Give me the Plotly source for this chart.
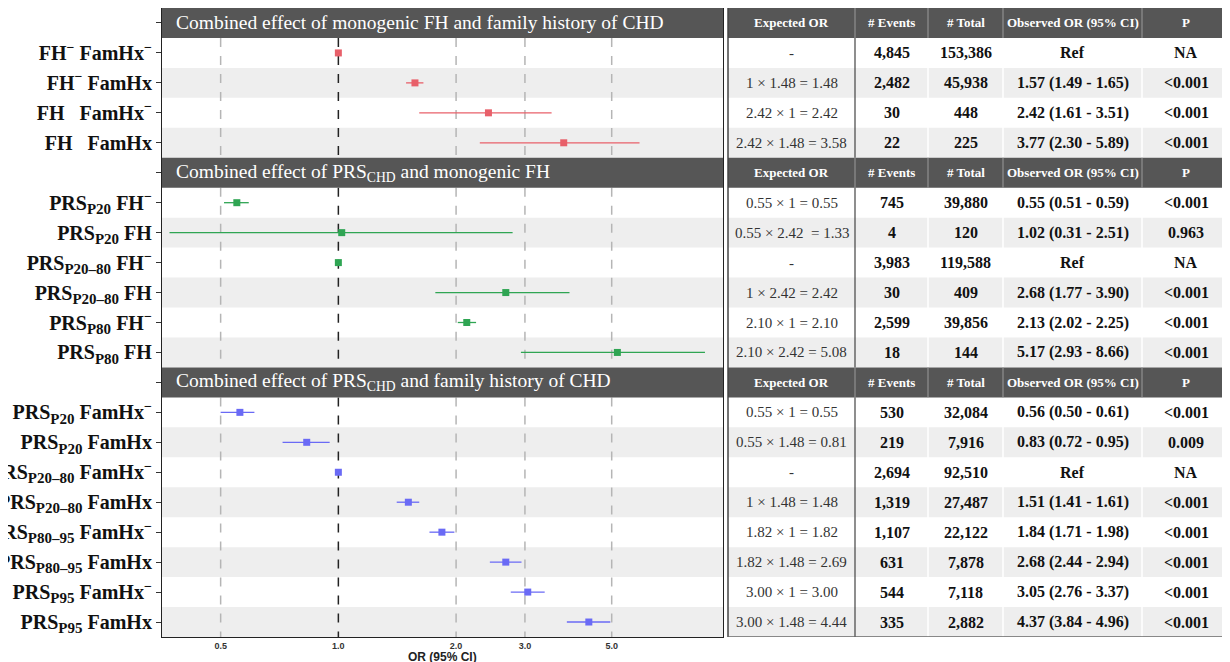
import math
import plotly.graph_objects as go

# ---------------- data ----------------
sections = [
    "Combined effect of monogenic FH and family history of CHD",
    "Combined effect of PRS<sub>CHD</sub> and monogenic FH",
    "Combined effect of PRS<sub>CHD</sub> and family history of CHD",
]

def sub(t):
    return "<sub><span style='font-size:15px'>" + t + "</span></sub>"

MINUS = "<sup>−</sup>"

labels1 = ["FH" + MINUS + " FamHx" + MINUS, "FH" + MINUS + " FamHx",
           "FH\u00a0\u00a0 FamHx" + MINUS, "FH\u00a0\u00a0 FamHx"]
est1 = [1.00, 1.57, 2.42, 3.77]
lo1 = [1.00, 1.49, 1.61, 2.30]
hi1 = [1.00, 1.65, 3.51, 5.89]
expected1 = ["-", "1 × 1.48 = 1.48", "2.42 × 1 = 2.42", "2.42 × 1.48 = 3.58"]
events1 = ["4,845", "2,482", "30", "22"]
total1 = ["153,386", "45,938", "448", "225"]
obs1 = ["Ref", "1.57 (1.49 - 1.65)", "2.42 (1.61 - 3.51)", "3.77 (2.30 - 5.89)"]
p1 = ["NA", "&lt;0.001", "&lt;0.001", "&lt;0.001"]

labels2 = ["PRS" + sub("P20") + " FH" + MINUS, "PRS" + sub("P20") + " FH",
           "PRS" + sub("P20–80") + " FH" + MINUS, "PRS" + sub("P20–80") + " FH",
           "PRS" + sub("P80") + " FH" + MINUS, "PRS" + sub("P80") + " FH"]
est2 = [0.55, 1.02, 1.00, 2.68, 2.13, 5.17]
lo2 = [0.51, 0.37, 1.00, 1.77, 2.02, 2.93]
hi2 = [0.59, 2.79, 1.00, 3.90, 2.25, 8.66]
expected2 = ["0.55 × 1 = 0.55", "0.55 × 2.42  = 1.33", "-", "1 × 2.42 = 2.42",
             "2.10 × 1 = 2.10", "2.10 × 2.42 = 5.08"]
events2 = ["745", "4", "3,983", "30", "2,599", "18"]
total2 = ["39,880", "120", "119,588", "409", "39,856", "144"]
obs2 = ["0.55 (0.51 - 0.59)", "1.02 (0.31 - 2.51)", "Ref", "2.68 (1.77 - 3.90)",
        "2.13 (2.02 - 2.25)", "5.17 (2.93 - 8.66)"]
p2 = ["&lt;0.001", "0.963", "NA", "&lt;0.001", "&lt;0.001", "&lt;0.001"]

labels3 = ["PRS" + sub("P20") + " FamHx" + MINUS, "PRS" + sub("P20") + " FamHx",
           "PRS" + sub("P20–80") + " FamHx" + MINUS, "PRS" + sub("P20–80") + " FamHx",
           "PRS" + sub("P80–95") + " FamHx" + MINUS, "PRS" + sub("P80–95") + " FamHx",
           "PRS" + sub("P95") + " FamHx" + MINUS, "PRS" + sub("P95") + " FamHx"]
est3 = [0.56, 0.83, 1.00, 1.51, 1.84, 2.68, 3.05, 4.37]
lo3 = [0.50, 0.72, 1.00, 1.41, 1.71, 2.44, 2.76, 3.84]
hi3 = [0.61, 0.95, 1.00, 1.61, 1.98, 2.94, 3.37, 4.96]
expected3 = ["0.55 × 1 = 0.55", "0.55 × 1.48 = 0.81", "-", "1 × 1.48 = 1.48",
             "1.82 × 1 = 1.82", "1.82 × 1.48 = 2.69", "3.00 × 1 = 3.00",
             "3.00 × 1.48 = 4.44"]
events3 = ["530", "219", "2,694", "1,319", "1,107", "631", "544", "335"]
total3 = ["32,084", "7,916", "92,510", "27,487", "22,122", "7,878", "7,118", "2,882"]
obs3 = ["0.56 (0.50 - 0.61)", "0.83 (0.72 - 0.95)", "Ref", "1.51 (1.41 - 1.61)",
        "1.84 (1.71 - 1.98)", "2.68 (2.44 - 2.94)", "3.05 (2.76 - 3.37)",
        "4.37 (3.84 - 4.96)"]
p3 = ["&lt;0.001", "0.009", "NA", "&lt;0.001", "&lt;0.001", "&lt;0.001",
      "&lt;0.001", "&lt;0.001"]

table_headers = ["Expected OR", "# Events", "# Total", "Observed OR (95% CI)", "P"]
x_ticks = [0.5, 1.0, 2.0, 3.0, 5.0]
x_ticktext = ["0.5", "1.0", "2.0", "3.0", "5.0"]
x_range = [0.354, 9.63]

colors = ["#E8606A", "#2FA553", "#6A6AF5"]

groups = [
    (labels1, est1, lo1, hi1, expected1, events1, total1, obs1, p1),
    (labels2, est2, lo2, hi2, expected2, events2, total2, obs2, p2),
    (labels3, est3, lo3, hi3, expected3, events3, total3, obs3, p3),
]

# ---------------- layout constants (page px; page body has 8px margin) ----------------
OFF = 8
W, H = 1230 - OFF, 662 - OFF
ML, MR, MT, MB = 162 - OFF, 0, 8 - OFF, 25
PW = W - ML - MR
PH = H - MT - MB
def px(x_page):
    return (x_page - OFF - ML) / PW

PLOT_R = 723
TAB_L = 728
col_edges = [728, 855, 928, 1003, 1142, 1230]
HDR_BG = "#565656"
ROW_GRAY = "#EEEEEE"
SERIF = "Liberation Serif"

fig = go.Figure()
shapes = []
annotations = []
tickvals, ticktext = [], []

pos = 0
for gi, (labs, est, lo, hi, expd, ev, tot, obs, pv) in enumerate(groups):
    hdr = pos
    tickvals.append(hdr); ticktext.append("")
    # header bars
    shapes.append(dict(type="rect", xref="paper", yref="y", x0=0, x1=px(PLOT_R),
                       y0=hdr - 0.5, y1=hdr + 0.5, fillcolor=HDR_BG, line_width=0,
                       layer="above"))
    annotations.append(dict(xref="paper", yref="y", x=px(174), y=hdr, xanchor="left",
                            yanchor="middle", text=sections[gi], showarrow=False,
                            font=dict(family=SERIF, size=19.5, color="white")))
    shapes.append(dict(type="rect", xref="paper", yref="y", x0=px(TAB_L), x1=1,
                       y0=hdr - 0.5, y1=hdr + 0.5, fillcolor=HDR_BG, line_width=0,
                       layer="above"))
    for ci, h in enumerate(table_headers):
        annotations.append(dict(xref="paper", yref="y", xanchor="center", yanchor="middle",
                                x=px((col_edges[ci] + col_edges[ci + 1]) / 2), y=hdr,
                                text="<b>" + h + "</b>", showarrow=False,
                                font=dict(family=SERIF, size=13, color="white")))
    for e in col_edges[1:-1]:
        shapes.append(dict(type="line", xref="paper", yref="y", x0=px(e), x1=px(e),
                           y0=hdr - 0.5, y1=hdr + 0.5,
                           line=dict(color="#9A9A9A", width=1), layer="above"))
    ys = []
    for ri in range(len(labs)):
        y = pos + 1 + ri
        ys.append(y)
        tickvals.append(y); ticktext.append(labs[ri])
        if ri % 2 == 1:
            shapes.append(dict(type="rect", xref="paper", yref="y", x0=0, x1=px(PLOT_R),
                               y0=y - 0.5, y1=y + 0.5, fillcolor=ROW_GRAY, line_width=0,
                               layer="below"))
            shapes.append(dict(type="rect", xref="paper", yref="y", x0=px(TAB_L), x1=1,
                               y0=y - 0.5, y1=y + 0.5, fillcolor=ROW_GRAY, line_width=0,
                               layer="below"))
        cells = [expd[ri], ev[ri], tot[ri], obs[ri], pv[ri]]
        for ci, c in enumerate(cells):
            if ci == 0:
                t = c
                f = dict(family=SERIF, size=15, color="#333333")
            else:
                t = "<b>" + c + "</b>"
                f = dict(family=SERIF, size=16, color="#111111")
            annotations.append(dict(xref="paper", yref="y", xanchor="center",
                                    yanchor="middle",
                                    x=px((col_edges[ci] + col_edges[ci + 1]) / 2), y=y,
                                    text=t, showarrow=False, font=f))
    y_top, y_bot = pos + 0.5, pos + len(labs) + 0.5
    # vertical guide lines within section
    for xv in x_ticks:
        shapes.append(dict(type="line", xref="x", yref="y", x0=xv, x1=xv,
                           y0=y_top, y1=y_bot, layer="below",
                           line=dict(color="#222222" if xv == 1.0 else "#B5B5B5",
                                     width=1.5, dash="dash")))
    # table body separators
    shapes.append(dict(type="line", xref="paper", yref="y", x0=px(855), x1=px(855),
                       y0=y_top, y1=y_bot, line=dict(color="#444444", width=1.2)))
    for e in col_edges[2:-1]:
        shapes.append(dict(type="line", xref="paper", yref="y", x0=px(e), x1=px(e),
                           y0=y_top, y1=y_bot, line=dict(color="white", width=1.5),
                           layer="below"))
    fig.add_trace(go.Scatter(
        x=est, y=ys, mode="markers",
        marker=dict(symbol="square", size=7, color=colors[gi]),
        error_x=dict(type="data", symmetric=False,
                     array=[h - e for h, e in zip(hi, est)],
                     arrayminus=[e - l for e, l in zip(est, lo)],
                     color=colors[gi], thickness=1.3, width=0),
        showlegend=False, hoverinfo="skip"))
    pos += len(labs) + 1

n_units = pos
# table outer borders
shapes.append(dict(type="line", xref="paper", yref="y", x0=px(TAB_L), x1=px(TAB_L),
                   y0=-0.5, y1=n_units - 0.5, line=dict(color="#444444", width=1.5),
                   layer="above"))
shapes.append(dict(type="line", xref="paper", yref="y", x0=px(TAB_L), x1=1,
                   y0=n_units - 0.5, y1=n_units - 0.5, line=dict(color="#666666", width=1.5),
                   layer="above"))

annotations.append(dict(xref="paper", yref="paper", x=px((162 + PLOT_R) / 2),
                        y=-19.5 / PH, xanchor="center", yanchor="middle",
                        text="<b>OR (95% CI)</b>", showarrow=False,
                        font=dict(family="Liberation Sans, Arial", size=12, color="#222222")))

fig.update_layout(
    width=W, height=H, template="none",
    margin=dict(l=ML, r=MR, t=MT, b=MB, pad=0),
    paper_bgcolor="white", plot_bgcolor="white",
    shapes=shapes, annotations=annotations, showlegend=False,
    xaxis=dict(type="log", domain=[0, px(PLOT_R)],
               range=[math.log10(x_range[0]), math.log10(x_range[1])],
               tickvals=x_ticks, ticktext=["<b>" + t + "</b>" for t in x_ticktext],
               showgrid=False, zeroline=False, ticks="",
               tickfont=dict(family="Liberation Sans, Arial", size=9, color="#333333"),
               showline=True, linecolor="#222222", linewidth=1.2, mirror=True,
               automargin=False),
    yaxis=dict(range=[n_units - 0.5, -0.5], tickvals=tickvals,
               ticktext=["<b>" + t + "</b>" if t else "" for t in ticktext],
               showgrid=False, zeroline=False, ticks="outside", ticklen=5,
               tickcolor="#333333",
               tickfont=dict(family=SERIF, size=20, color="#111111"),
               showline=True, linecolor="#222222", linewidth=1.2, mirror=True,
               automargin=False),
)

fig.write_html("out.html")
